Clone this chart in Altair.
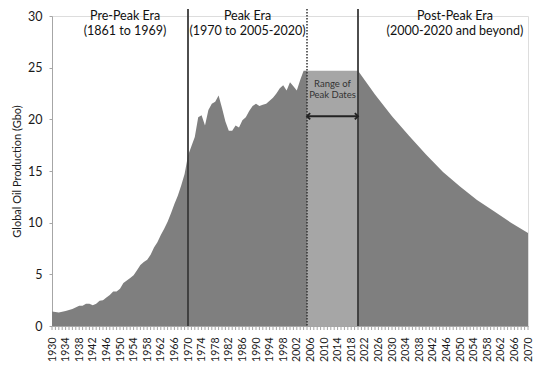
import altair as alt
import pandas as pd

# ---- data ----
hist_years = [1930, 1931, 1932, 1934, 1936, 1938, 1939, 1940, 1941, 1942, 1943, 1944, 1945,
              1946, 1947, 1948, 1949, 1950, 1951, 1952, 1953, 1954, 1955, 1956, 1957, 1958,
              1959, 1960, 1961, 1962, 1963, 1964, 1965, 1966, 1967, 1968, 1969, 1970, 1971,
              1972, 1973, 1974, 1975, 1976, 1977, 1978, 1979, 1980, 1981, 1982, 1983, 1984,
              1985, 1986, 1987, 1988, 1989, 1990, 1991, 1992, 1993, 1994, 1995, 1996, 1997,
              1998, 1999, 2000, 2001, 2002, 2003, 2004, 2005]
hist_values = [1.40, 1.35, 1.30, 1.45, 1.65, 1.95, 1.95, 2.15, 2.15, 2.00, 2.15, 2.45, 2.50,
               2.75, 3.00, 3.35, 3.35, 3.60, 4.15, 4.40, 4.65, 4.90, 5.40, 5.90, 6.20, 6.40,
               6.90, 7.60, 8.10, 8.80, 9.40, 10.10, 10.90, 11.80, 12.60, 13.60, 14.70, 16.50,
               17.40, 18.30, 20.20, 20.40, 19.40, 20.90, 21.50, 21.70, 22.30, 21.10, 19.80,
               18.90, 18.90, 19.40, 19.20, 19.90, 20.20, 20.80, 21.30, 21.50, 21.30, 21.40,
               21.50, 21.80, 22.10, 22.50, 23.00, 23.30, 22.80, 23.60, 23.20, 22.80, 23.80,
               24.70, 24.70]
peak_years = [2005, 2020]
peak_values = [24.7, 24.7]
decline_years = [2020, 2025, 2030, 2035, 2040, 2045, 2050, 2055, 2060, 2065, 2070]
decline_values = [24.7, 22.4, 20.3, 18.4, 16.6, 14.9, 13.5, 12.2, 11.1, 10.0, 9.0]

era_x = [1951.5, 1987.5, 2048.5]
era_line1 = ["Pre-Peak Era", "Peak Era", "Post-Peak Era"]
era_line2 = ["(1861 to 1969)", "(1970 to 2005-2020)", "(2000-2020 and beyond)"]
solid_lines = [1970, 2020]
dotted_lines = [2005]
range_text_x = [2012.5]
range_lines = ["Range of", "Peak Dates"]
arrow_from = [2005]
arrow_to = [2020]
arrow_level = [20.3]
label_years = list(range(1930, 2071, 4))
minor_years = list(range(1930, 2071))
y_ticks = [0, 5, 10, 15, 20, 25, 30]

W, H = 476, 310
FONT = "Lato"
xs = alt.Scale(domain=[1930, 2070], nice=False, zero=False)
ys = alt.Scale(domain=[0, 30], nice=False)

df_hist = pd.DataFrame({"year": hist_years, "value": hist_values})
df_peak = pd.DataFrame({"year": peak_years, "value": peak_values})
df_dec = pd.DataFrame({"year": decline_years, "value": decline_values})

x_axis = alt.Axis(values=label_years, labelAngle=270, format="d", ticks=False,
                  domainColor="#a6a6a6", labelFontSize=10.5, labelColor="#1a1a1a",
                  labelPadding=11, grid=False, title=None, labelFont=FONT,
                  labelOverlap=False, labelFlush=False, labelBound=False)
y_axis = alt.Axis(values=y_ticks, grid=False, domainColor="#a6a6a6", tickColor="#a6a6a6",
                  tickSize=3, labelPadding=7, labelFontSize=12.5, labelColor="#1a1a1a",
                  labelFont=FONT, title="Global Oil Production (Gbo)", titleFont=FONT,
                  titleFontSize=11, titleFontWeight="normal", titleColor="#1a1a1a",
                  titlePadding=5)


def X(f):
    return alt.X(f, scale=xs, axis=x_axis, title=None)


def Y(f):
    return alt.Y(f, scale=ys, axis=y_axis, title="Global Oil Production (Gbo)")


dark1 = alt.Chart(df_hist).mark_area(color="#7f7f7f", opacity=1).encode(
    x=X("year:Q"), y=Y("value:Q"))
light = alt.Chart(df_peak).mark_area(color="#a6a6a6", opacity=1).encode(
    x=X("year:Q"), y=Y("value:Q"))
dark2 = alt.Chart(df_dec).mark_area(color="#7f7f7f", opacity=1).encode(
    x=X("year:Q"), y=Y("value:Q"))

minor = alt.Chart(pd.DataFrame({"year": minor_years})).mark_rule(
    color="#a6a6a6", strokeWidth=1).encode(
    x=X("year:Q"), y=alt.value(H), y2=alt.value(H + 4))

solid = alt.Chart(pd.DataFrame({"year": solid_lines})).mark_rule(
    color="#3a3a3a", strokeWidth=1.8).encode(
    x=X("year:Q"), y=alt.value(-7), y2=alt.value(H))
dotted = alt.Chart(pd.DataFrame({"year": dotted_lines})).mark_rule(
    color="#333333", strokeWidth=1.5, strokeDash=[1.5, 1.5]).encode(
    x=X("year:Q"), y=alt.value(-7), y2=alt.value(H))

era1 = alt.Chart(pd.DataFrame({"year": era_x, "t": era_line1})).mark_text(
    font=FONT, fontSize=12.5, color="#111111", baseline="middle").encode(
    x=X("year:Q"), y=alt.value(0), text="t:N")
era2 = alt.Chart(pd.DataFrame({"year": era_x, "t": era_line2})).mark_text(
    font=FONT, fontSize=12.5, color="#111111", baseline="middle").encode(
    x=X("year:Q"), y=alt.value(15), text="t:N")

rng1 = alt.Chart(pd.DataFrame({"year": range_text_x, "t": [range_lines[0]]})).mark_text(
    font=FONT, fontSize=9.5, color="#333333", baseline="middle").encode(
    x=X("year:Q"), y=alt.value(68), text="t:N")
rng2 = alt.Chart(pd.DataFrame({"year": range_text_x, "t": [range_lines[1]]})).mark_text(
    font=FONT, fontSize=9.5, color="#333333", baseline="middle").encode(
    x=X("year:Q"), y=alt.value(79), text="t:N")

df_arrow = pd.DataFrame({"a": arrow_from, "b": arrow_to, "v": arrow_level})
arrow = alt.Chart(df_arrow).mark_rule(color="#222222", strokeWidth=1.8).encode(
    x=X("a:Q"), x2="b:Q", y=Y("v:Q"))
head_l = alt.Chart(df_arrow).mark_point(
    shape="M1,-1L0,0L1,1", filled=False, color="#222222", strokeWidth=1.8, size=40,
    opacity=1).encode(x=X("a:Q"), y=Y("v:Q"))
head_r = alt.Chart(df_arrow).mark_point(
    shape="M-1,-1L0,0L-1,1", filled=False, color="#222222", strokeWidth=1.8, size=40,
    opacity=1).encode(x=X("b:Q"), y=Y("v:Q"))

chart = alt.layer(dark1, light, dark2, minor, solid, dotted, era1, era2, rng1, rng2,
                  arrow, head_l, head_r).properties(
    width=W, height=H,
    padding={"left": 3, "top": 0, "right": 0, "bottom": 0},
).configure_view(stroke=None).configure_axisX(labelOverlap=False).configure(
    background="white")

chart.save("out.html", embed_options={"renderer": "svg", "actions": False})
